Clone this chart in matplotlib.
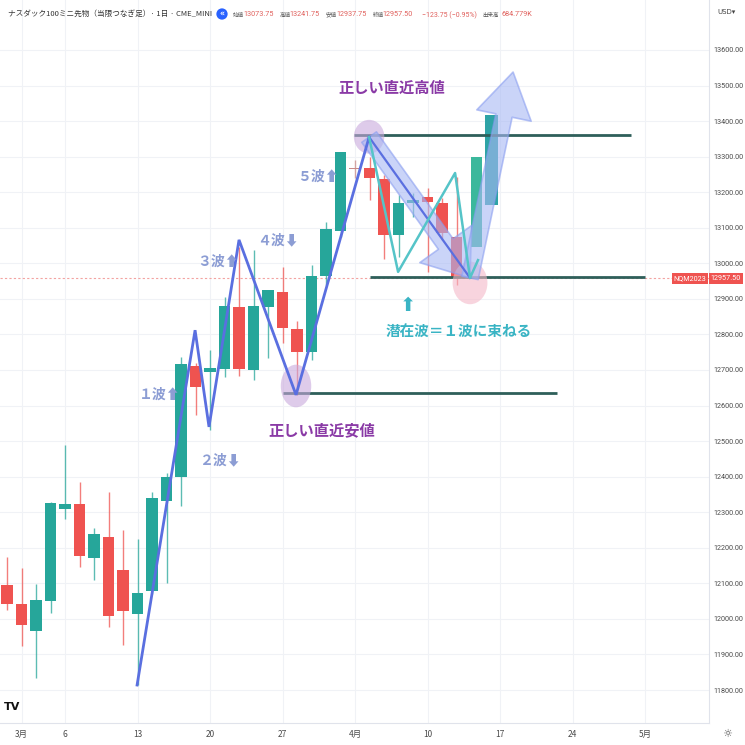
import matplotlib
matplotlib.use('Agg')
import matplotlib.pyplot as plt
from matplotlib.patches import Ellipse

plt.rcParams['font.family'] = ['Noto Sans CJK JP', 'DejaVu Sans']

# ---------------- data ----------------
opens  = [12095, 12042, 11966, 12050, 12309, 12323, 12171, 12230, 12137, 12014,
          12078, 12332, 12399, 12711, 12694, 12703, 12877, 12700, 12877, 12919,
          12815, 12751, 12964, 13091, 13268, 13268, 13237, 13080, 13170, 13187,
          13170, 13073.75]
highs  = [12174, 12143, 12098, 12329, 12489, 12385, 12256, 12357, 12250, 12225,
          12357, 12410, 12737, 12720, 12756, 12905, 13046, 13037, 12925, 12990,
          12838, 12995, 13116, 13313, 13291, 13299, 13248, 13192, 13198, 13212,
          13184, 13241.75]
lows   = [12025, 11924, 11834, 12017, 12281, 12146, 12109, 11977, 11927, 11814,
          12070, 12101, 12318, 12573, 12531, 12680, 12683, 12672, 12734, 12776,
          12630, 12728, 12939, 13074, 13240, 13178, 13012, 13018, 13130, 12976,
          13066, 12937.75]
closes = [12042, 11983, 12053, 12326, 12323, 12177, 12239, 12008, 12022, 12073,
          12340, 12399, 12717, 12652, 12706, 12880, 12703, 12880, 12925, 12818,
          12751, 12964, 13097, 13313, 13266, 13240, 13080, 13170, 13178, 13172,
          13085, 12957.50]

tick_idx    = [1, 4, 9, 14, 19, 24, 29, 34, 39, 44]
tick_labels = ['3月', '6', '13', '20', '27', '4月', '10', '17', '24', '5月']
price_ticks = list(range(11800, 13700, 100))

# hand-drawn projected candles
proj_x   = [32.4, 33.4]
proj_lo  = [13046, 13164]
proj_hi  = [13299, 13417]

# wave annotation (index, price)
wave_x = [8.97, 12.97, 13.93, 16.0, 19.93, 24.97]
wave_p = [11814, 12812, 12540, 13066, 12630, 13355]
sub_x  = [24.97, 26.97, 30.9, 31.93, 32.48]
sub_p  = [13355, 12976, 13254, 12959, 13009]

last_close = 12957.50
res_level, sup_mid, sup_low = 13361, 12962, 12635

# header values
hdr_labels = ['始値', '高値', '安値', '終値']
hdr_values = ['13073.75', '13241.75', '12937.75', '12957.50']
hdr_change = '−123.75 (−0.95%)'
hdr_volume = '684.779K'

GREEN = '#26a69a'
RED = '#ef5350'

fig = plt.figure(figsize=(7.45, 7.45), dpi=100)
ax = fig.add_axes([0, 22/745, 709/745, 723/745])
ax.set_xlim(-0.483, 48.41)
ax.set_ylim(11707.2, 13740.6)

# grid
for t in tick_idx:
    ax.axvline(t, color='#f0f2f6', lw=0.8, zorder=0)
for p in price_ticks:
    ax.axhline(p, color='#f0f2f6', lw=0.8, zorder=0)

# current price dotted line
ax.axhline(last_close, color='#f3a3a1', lw=0.8, ls=(0, (2, 2)), zorder=1)

# candles
for i, (o, h, l, c) in enumerate(zip(opens, highs, lows, closes)):
    col = GREEN if c >= o else RED
    if abs(c - o) < 5:
        col = '#c98a88'
    ax.vlines(i, l, h, color=col, lw=1.0, alpha=0.75, zorder=2)
    body = max(abs(c - o), 3)
    ax.bar(i, body, bottom=min(o, c), width=0.78, color=col, zorder=3, lw=0)

# projected candles
ax.bar(proj_x[0], proj_hi[0] - proj_lo[0], bottom=proj_lo[0], width=0.78,
       color='#3bb89c', zorder=3, lw=0)
ax.bar(proj_x[1], proj_hi[1] - proj_lo[1], bottom=proj_lo[1], width=0.85,
       color='#2ea3a6', zorder=3, lw=0)

# horizontal levels
LINEC = '#2e5f5a'
ax.hlines(res_level, 23.9, 43.0, color=LINEC, lw=2, zorder=4)
ax.hlines(sup_mid, 25.0, 44.0, color=LINEC, lw=2, zorder=4)
ax.hlines(sup_low, 19.0, 37.9, color=LINEC, lw=2, zorder=4)

# circles
ax.add_patch(Ellipse((wave_x[4], wave_p[4] + 25), 2.1, 120, color='#c9a9dc', alpha=0.6, zorder=5, lw=0))
ax.add_patch(Ellipse((wave_x[5], res_level - 5), 2.1, 95, color='#c9a9dc', alpha=0.6, zorder=5, lw=0))
ax.add_patch(Ellipse((sub_x[3], 12945), 2.4, 120, color='#f4b8c8', alpha=0.6, zorder=5, lw=0))

# big arrows
arrow_kw = dict(fc='#a8b8f4', ec='#8a9ef0', alpha=0.6, lw=1.2)
ax.annotate('', xy=(sub_x[3], sub_p[3]), xytext=(wave_x[5], wave_p[5]),
            arrowprops=dict(arrowstyle='simple,head_length=1.5,head_width=2.3,tail_width=0.65',
                            mutation_scale=20, shrinkA=0, shrinkB=0, **arrow_kw), zorder=6)
ax.annotate('', xy=(34.9, 13538), xytext=(sub_x[3], sub_p[3]),
            arrowprops=dict(arrowstyle='simple,head_length=1.6,head_width=2.0,tail_width=0.6',
                            mutation_scale=20, shrinkA=0, shrinkB=0, **arrow_kw), zorder=6)

# wave lines
ax.plot(wave_x, wave_p, color='#5a6fe0', lw=2, zorder=7, solid_joinstyle='miter')
ax.plot([wave_x[5], sub_x[3]], [wave_p[5], sub_p[3]], color='#5a6fe0', lw=1.6, zorder=7)
ax.plot(sub_x, sub_p, color='#55c4c8', lw=1.8, zorder=7)

# texts
PURPLE = '#8a3aa6'
WAVEC = '#8c9dd4'
TEAL = '#3ab4c4'
ax.text(26.55, 13493, '正しい直近高値', color=PURPLE, fontsize=11, fontweight='bold',
        ha='center', va='center', zorder=8)
ax.text(21.72, 12531, '正しい直近安値', color=PURPLE, fontsize=11, fontweight='bold',
        ha='center', va='center', zorder=8)
ax.text(31.17, 12807, '潜在波＝１波に束ねる', color=TEAL, fontsize=10.5, fontweight='bold',
        ha='center', va='center', zorder=8)
ax.text(27.66, 12880, '⬆', color=TEAL, fontsize=14, ha='center', va='center', zorder=8,
        family=['DejaVu Sans'])
wave_labels = [('１波⬆', 10.55, 12630), ('２波⬇', 14.69, 12447), ('３波⬆', 14.55, 13004),
               ('４波⬇', 18.69, 13066), ('５波⬆', 21.45, 13243)]
for s, x, y in wave_labels:
    ax.text(x, y, s, color=WAVEC, fontsize=10, fontweight='bold', ha='center', va='center',
            zorder=8, family=['Noto Sans CJK JP', 'DejaVu Sans'])

# axes styling
for sp in ['top', 'left']:
    ax.spines[sp].set_visible(False)
ax.spines['right'].set_color('#e0e3eb')
ax.spines['bottom'].set_color('#e0e3eb')
ax.yaxis.tick_right()
ax.set_yticks(price_ticks)
ax.set_yticklabels([f'{p:.2f}' for p in price_ticks], fontsize=5.2, color='#4a4a4a',
                   family=['Roboto'])
ax.set_xticks(tick_idx)
ax.set_xticklabels(tick_labels, fontsize=6, color='#4a4a4a')
ax.tick_params(axis='y', length=0, pad=3)
ax.tick_params(axis='x', length=0, pad=5)

# price label at right
fig.text(690/745, 1 - 278.5/745, 'NQM2023', fontsize=5.2, color='white', ha='center', va='center',
         family=['Roboto'], bbox=dict(boxstyle='square,pad=0.25', fc=RED, ec='none'))
fig.text(726/745, 1 - 278.5/745, f'{last_close:.2f}', fontsize=5.2, color='white', ha='center',
         va='center', family=['Roboto'], bbox=dict(boxstyle='square,pad=0.3', fc=RED, ec='none'))

# header
fig.text(8/745, 1 - 14/745, 'ナスダック100ミニ先物（当限つなぎ足）· 1日 · CME_MINI', fontsize=5.5,
         color='#333333', ha='left', va='center')
fig.text(222/745, 1 - 14/745, '«', fontsize=5.5, color='white', ha='center', va='center',
         family=['DejaVu Sans'], fontweight='bold',
         bbox=dict(boxstyle='circle,pad=0.15', fc='#2962ff', ec='none'))
x0 = 233
for lab, val in zip(hdr_labels, hdr_values):
    fig.text(x0/745, 1 - 15/745, lab, fontsize=4.0, color='#555555', ha='left', va='center')
    fig.text((x0 + 10)/745, 1 - 15/745, val, fontsize=5.2, color='#e0605c', ha='left', va='center',
             family=['Roboto'])
    x0 += 46.5
fig.text(422/745, 1 - 15/745, hdr_change, fontsize=5.0, color='#e0605c', ha='left',
         va='center', family=['Roboto', 'DejaVu Sans'])
fig.text(482/745, 1 - 15/745, '出来高', fontsize=4.0, color='#555555', ha='left', va='center')
fig.text(502/745, 1 - 15/745, hdr_volume, fontsize=5.2, color='#e0605c', ha='left', va='center',
         family=['Roboto'])
fig.text(717/745, 1 - 12/745, 'USD▾', fontsize=5, color='#444444', ha='left', va='center',
         family=['DejaVu Sans'])

# logo and gear
fig.text(12/745, 1 - 707/745, 'TV', fontsize=8, color='#111111', ha='center', va='center',
         fontweight='bold', family=['DejaVu Sans'])
fig.text(727/745, 1 - 734/745, '☼', fontsize=8, color='#555555', ha='center', va='center',
         family=['DejaVu Sans'])

fig.savefig('out.png', dpi=100, facecolor='white')
